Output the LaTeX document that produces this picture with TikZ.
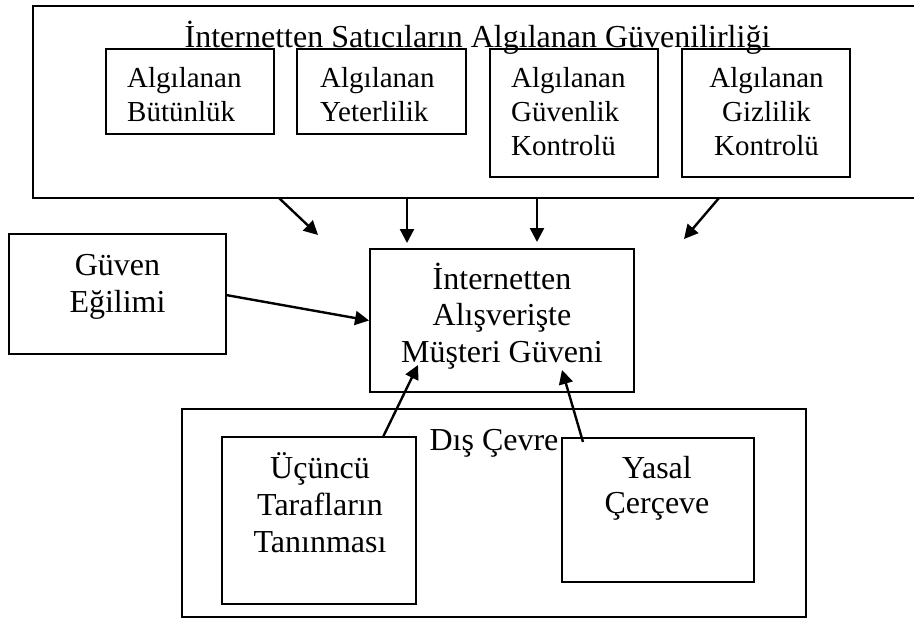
\documentclass[tikz,border=0pt]{standalone}
\usepackage{fontspec}
\setmainfont{Liberation Serif}
\usetikzlibrary{arrows.meta}
\tikzset{
  box/.style={draw, line width=1.9pt, inner sep=0pt, fill=none},
  lbl/.style={font=\fontsize{29}{33}\selectfont, inner sep=0pt},
  big/.style={font=\fontsize{32}{37}\selectfont},
  lc/.style={lbl, anchor=base},
  bc/.style={lbl, big, anchor=base},
  ll/.style={lbl, anchor=base west},
  arr/.style={line width=2.4pt, -{Triangle[length=14pt,width=14pt]}}
}
\begin{document}
\begin{tikzpicture}[x=1pt,y=-1pt]
\clip (0,0) rectangle (914,619);
\useasboundingbox (0,0) rectangle (914,619);
\fill[white] (0,0) rectangle (914,619);
% top outer box
\node[box, minimum width=884pt, minimum height=192pt] (outer) at (475,102) {};
\node[bc] (title) at (477.5,47) {İnternetten Satıcıların Algılanan Güvenilirliği};
% inner boxes
\node[box, minimum width=168pt, minimum height=85pt] (b1) at (190,91.5) {};
\node[ll] (b1a) at (127,87) {Algılanan};
\node[ll] (b1b) at (127,121) {Bütünlük};
\node[box, minimum width=169pt, minimum height=85pt] (b2) at (381.5,91.5) {};
\node[ll] (b2a) at (320,87) {Algılanan};
\node[ll] (b2b) at (320,121) {Yeterlilik};
\node[box, minimum width=168pt, minimum height=128pt] (b3) at (574,113) {};
\node[ll] (b3a) at (511,87) {Algılanan};
\node[ll] (b3b) at (511,121) {Güvenlik};
\node[ll] (b3c) at (511,155) {Kontrolü};
\node[box, minimum width=168pt, minimum height=128pt] (b4) at (766,113) {};
\node[lc] (b4a) at (766.5,87) {Algılanan};
\node[lc] (b4b) at (766.5,121) {Gizlilik};
\node[lc] (b4c) at (766.5,155) {Kontrolü};
% Guven egilimi
\node[box, minimum width=217pt, minimum height=120pt] (guven) at (117.5,294) {};
\node[bc] (g1) at (117.5,275) {Güven};
\node[bc] (g2) at (117.5,312) {Eğilimi};
% center box
\node[box, minimum width=264pt, minimum height=143pt] (center) at (502,320.5) {};
\node[bc] (c1) at (502,289) {İnternetten};
\node[bc] (c2) at (502,325) {Alışverişte};
\node[bc] (c3) at (502,362) {Müşteri Güveni};
% bottom outer box
\node[box, minimum width=624pt, minimum height=208pt] (env) at (494,513) {};
\node[bc] (envt) at (494,450) {Dış Çevre};
\node[box, minimum width=194pt, minimum height=167pt] (third) at (319,520.5) {};
\node[bc] (t1) at (320,478) {Üçüncü};
\node[bc] (t2) at (320,515) {Tarafların};
\node[bc] (t3) at (320,552) {Tanınması};
\node[box, minimum width=192pt, minimum height=144pt] (legal) at (658,510) {};
\node[bc] (y1) at (657,478) {Yasal};
\node[bc] (y2) at (657,513) {Çerçeve};
% arrow endpoints
\coordinate (s1) at (279,198);
\coordinate (e1) at (318,235);
\coordinate (s2) at (407,198);
\coordinate (e2) at (407,243);
\coordinate (s3) at (537,198);
\coordinate (e3) at (537,242);
\coordinate (s4) at (719,198);
\coordinate (e4) at (684,239);
\coordinate (gs) at (226,295);
\coordinate (ts) at (383,437);
\coordinate (te) at (418,365);
\coordinate (ys) at (583,442);
\coordinate (ye) at (562,370);
\draw[arr] (s1) -- (e1);
\draw[arr] (s2) -- (e2);
\draw[arr] (s3) -- (e3);
\draw[arr] (s4) -- (e4);
\draw[arr] (gs) -- (center.west);
\draw[arr] (ts) -- (te);
\draw[arr] (ys) -- (ye);
\end{tikzpicture}
\end{document}
